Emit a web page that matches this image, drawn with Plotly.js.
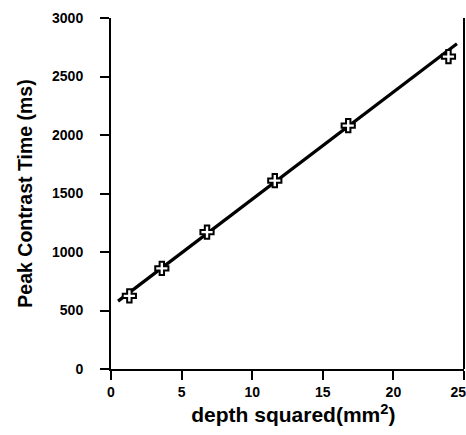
<!DOCTYPE html>
<html>
<head>
<meta charset="utf-8">
<script src="https://cdn.plot.ly/plotly-3.0.1.min.js"></script>
<style>html,body{margin:0;padding:0;background:#fff;overflow:hidden;}#chart{width:466px;height:435px;}</style>
</head>
<body>
<div id="chart"></div>
<script>
// Data
const depthSquared = [1.3, 3.6, 6.8, 11.6, 16.8, 23.9];
const peakTime = [625, 860, 1170, 1610, 2080, 2670];
const fitX = [0.5, 24.5];
const fitY = [580, 2780];
const xTicks = [0, 5, 10, 15, 20, 25];
const yTicks = [0, 500, 1000, 1500, 2000, 2500, 3000];

const fontFam = '"Liberation Sans", Arial, Helvetica, sans-serif';

const traces = [
  {x: fitX, y: fitY, mode: 'lines', line: {color: '#000', width: 3.2}, hoverinfo: 'skip'},
  {x: depthSquared, y: peakTime, mode: 'markers',
   marker: {symbol: 'cross', size: 11, color: '#fff', line: {color: '#000', width: 2}}}
];

const layout = {
  width: 466, height: 435,
  margin: {l: 111, r: 2, t: 18, b: 66},
  showlegend: false,
  paper_bgcolor: '#fff', plot_bgcolor: '#fff',
  font: {family: fontFam, color: '#000'},
  xaxis: {
    range: [0, 25], tickmode: 'array', tickvals: xTicks,
    ticktext: xTicks.map(v => '<b>' + v + (v === 25 ? '&nbsp;&nbsp;&nbsp;' : '') + '</b>'),
    showgrid: false, zeroline: false, showline: true, linecolor: '#000', linewidth: 2,
    ticks: 'outside', ticklen: 9, tickwidth: 2, tickcolor: '#000', ticklabeloverflow: 'allow',
    tickfont: {family: fontFam, size: 14, color: '#000'},
    title: {text: '<b>&nbsp;&nbsp;depth squared(mm<sup>2</sup>)</b>', font: {family: fontFam, size: 21, color: '#000'}, standoff: 9}
  },
  yaxis: {
    range: [0, 3000], tickmode: 'array', tickvals: yTicks, ticktext: yTicks.map(v => '<b>' + v + '</b>'),
    showgrid: false, zeroline: false, showline: true, linecolor: '#000', linewidth: 2,
    ticks: 'outside', ticklen: 9, tickwidth: 2, tickcolor: '#000', ticklabelstandoff: 14,
    tickfont: {family: fontFam, size: 14, color: '#000'},
    title: {text: '<b>Peak Contrast Time (ms)</b>', font: {family: fontFam, size: 19.5, color: '#000'}, standoff: 14}
  },
  shapes: [
    {type: 'line', xref: 'paper', yref: 'paper', x0: 1, x1: 1, y0: 0, y1: 1, line: {color: '#000', width: 2}}
  ]
};

Plotly.newPlot('chart', traces, layout, {displayModeBar: false, staticPlot: true});
</script>
</body>
</html>
